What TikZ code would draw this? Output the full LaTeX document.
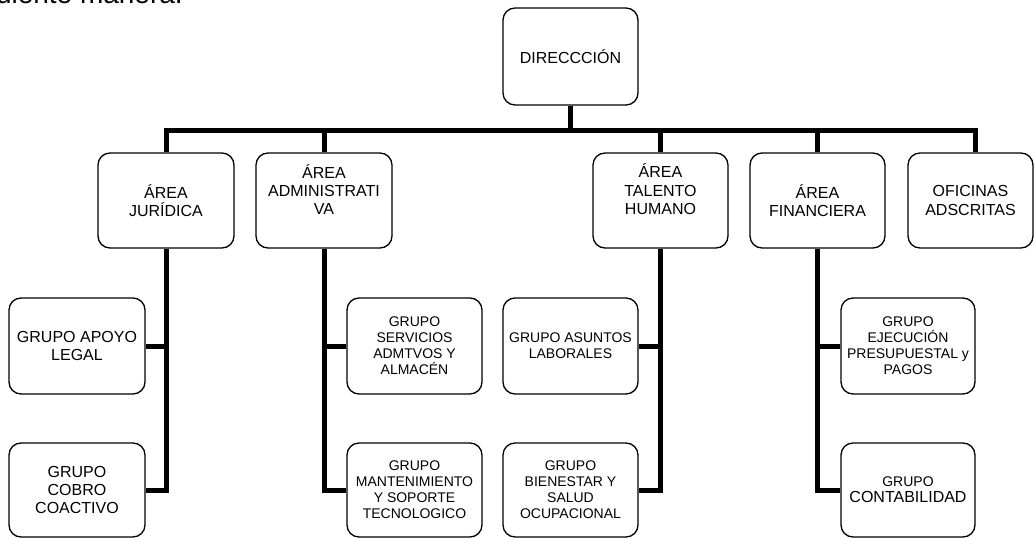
\documentclass[tikz,border=0pt]{standalone}
\usepackage{fontspec}
\setmainfont{Liberation Sans}
\usetikzlibrary{calc}

\tikzset{
	unit/.style={draw, rounded corners=12pt, line width=1.3pt, align=center, inner sep=2pt, minimum width=136pt, minimum height=95pt, font=\fontsize{16}{18.4}\selectfont},
	grupo/.style={unit, minimum width=135pt, font=\fontsize{14}{16.1}\selectfont},
	unittext/.style={align=center, inner sep=0pt, font=\fontsize{16}{18.4}\selectfont},
	link/.style={line width=5pt}
}

\begin{document}
\begin{tikzpicture}[x=1pt, y=-1pt]
		%%%%% START %%%%%
		\useasboundingbox (0, 0) rectangle (1034, 538);
		\clip (0, 0) rectangle (1034, 538);
		
		\node[anchor=base east, inner sep=0pt, font=\fontsize{28}{32}\selectfont] (intro) at (183, 4) {siguiente manera.};
		
		\node[unit, minimum width=135pt, minimum height=97pt] (dir) at (570.5, 56.5) {DIRECCCIÓN};
		
		\node[unit] (jur) at (166, 200.5) {ÁREA\\JURÍDICA};
		\node[unit] (adm) at (324, 200.5) {};
		\node[unittext] (admtext) at ([yshift=11pt]adm.center) {ÁREA\\ADMINISTRATI\\VA};
		\node[unit, minimum width=135pt] (tal) at (660.5, 200.5) {};
		\node[unittext] (taltext) at ([yshift=11pt]tal.center) {ÁREA\\TALENTO\\HUMANO};
		\node[unit, minimum width=135pt] (fin) at (817.5, 200.5) {ÁREA\\FINANCIERA};
		\node[unit, minimum width=125pt] (ofi) at (970.5, 200.5) {OFICINAS\\ADSCRITAS};
		\coordinate (ofitop) at ([xshift=4.5pt]ofi.north);
		
		\node[unit, minimum height=96pt] (apo) at (77, 346) {GRUPO APOYO\\LEGAL};
		\node[unit, minimum height=94pt] (cob) at (77, 490) {GRUPO\\COBRO\\COACTIVO};
		
		\node[grupo, minimum height=96pt] (ser) at (414.5, 346) {GRUPO\\SERVICIOS\\ADMTVOS Y\\ALMACÉN};
		\node[grupo, minimum height=94pt] (man) at (414.5, 490) {GRUPO\\MANTENIMIENTO\\Y SOPORTE\\TECNOLOGICO};
		
		\node[grupo, minimum height=96pt] (asu) at (570.5, 346) {GRUPO ASUNTOS\\LABORALES};
		\node[grupo, minimum height=94pt] (bie) at (570.5, 490) {GRUPO\\BIENESTAR Y\\SALUD\\OCUPACIONAL};
		
		\node[grupo, minimum width=134pt, minimum height=96pt] (eje) at (908, 346) {GRUPO\\EJECUCIÓN\\PRESUPUESTAL y\\PAGOS};
		\node[grupo, minimum width=134pt, minimum height=94pt] (con) at (908, 490) {GRUPO\\{\fontsize{16}{18.4}\selectfont CONTABILIDAD}};
		
		% top bar
		\coordinate (bar) at (0, 130);
		\draw[link] (dir.south) -- (dir.south |- bar);
		\draw[link] (jur.north) -- (jur.north |- bar) -- (ofitop |- bar) -- (ofitop);
		\foreach \n in {adm, tal, fin}
			\draw[link] (\n.north |- bar) -- (\n.north);
		
		% groups
		\draw[link] (jur.south) |- (cob.east);
		\draw[link] (apo.east) -- (apo.east -| jur.south);
		\draw[link] (adm.south) |- (man.west);
		\draw[link] (ser.west) -- (ser.west -| adm.south);
		\draw[link] (tal.south) |- (bie.east);
		\draw[link] (asu.east) -- (asu.east -| tal.south);
		\draw[link] (fin.south) |- (con.west);
		\draw[link] (eje.west) -- (eje.west -| fin.south);
		
		%%%%% END %%%%%
\end{tikzpicture}
\end{document}
